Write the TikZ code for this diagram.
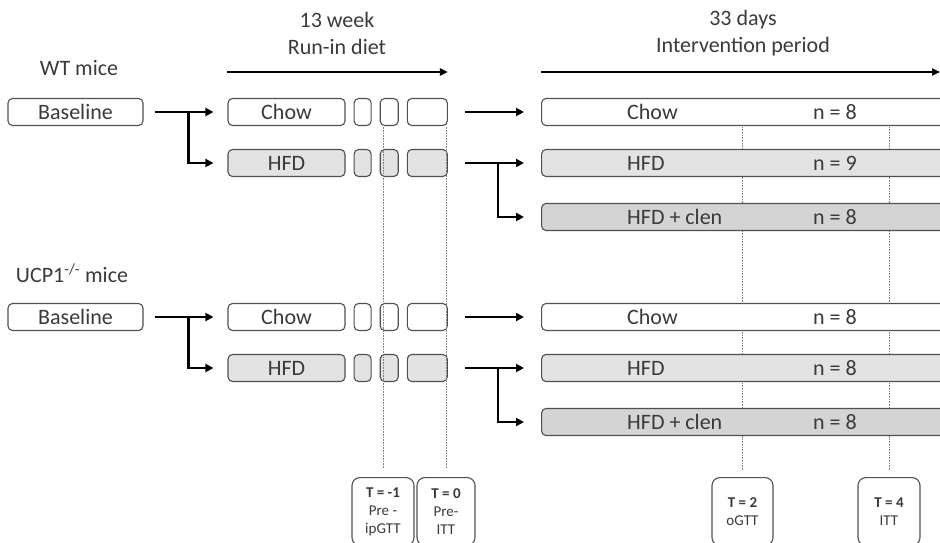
\documentclass[tikz,border=0pt]{standalone}
\usepackage{fontspec}
\setmainfont{Carlito}
\usetikzlibrary{calc, positioning, arrows.meta, backgrounds}

\definecolor{boxline}{HTML}{505050}
\definecolor{hfdgrey}{HTML}{E3E3E3}
\definecolor{clengrey}{HTML}{D4D4D4}
\definecolor{txtgrey}{HTML}{3A3A3A}

\begin{document}
\begin{tikzpicture}[x=1pt, y=-1pt,
   font=\fontsize{22}{27}\selectfont, text=txtgrey,
   box/.style = {draw=boxline, line width=1.1pt, rounded corners=4.5pt,
      minimum height=27pt, inner sep=0pt},
   chow/.style = {box, fill=white},
   hfd/.style = {box, fill=hfdgrey},
   clen/.style = {box, fill=clengrey},
   lbl/.style = {anchor=west, inner sep=0pt},
   tbox/.style = {draw=boxline, line width=1.1pt, rounded corners=8pt,
      minimum height=68pt, anchor=north, align=center,
      font=\fontsize{15}{18}\selectfont},
   arr/.style = {-{Triangle[length=8pt, width=8pt]}, line width=2.4pt, black},
   time/.style = {-{Triangle[length=8pt, width=7pt]}, line width=2pt, black},
   tline/.style = {densely dotted, gray, line width=0.6pt}]

   \clip (0,0) rectangle (940,543);

   % headers
   \node[align=center] (runhead) at (337,33) {13 week\\Run-in diet};
   \node[align=center] (inthead) at (743,33) {33 days\\Intervention period};
   \coordinate (hdr) at (0,72);

   % WT mice
   \node (wtname) at (79,68) {WT mice};
   \node[chow, minimum width=135pt] (wtbase) at (75.5,112) {Baseline};
   \node[chow, minimum width=117pt] (wtchow) at (286.5,112) {Chow};
   \node[chow, minimum width=17pt, right=8pt of wtchow] (wtc1) {};
   \node[chow, minimum width=18pt, right=8pt of wtc1] (wtc2) {};
   \node[chow, minimum width=40pt, right=8pt of wtc2] (wtc3) {};
   \node[hfd, minimum width=117pt] (wthfd) at (286.5,163) {HFD};
   \node[hfd, minimum width=17pt, right=8pt of wthfd] (wth1) {};
   \node[hfd, minimum width=18pt, right=8pt of wth1] (wth2) {};
   \node[hfd, minimum width=40pt, right=8pt of wth2] (wth3) {};

   \node[chow, minimum width=420pt, anchor=west] (wtchowI) at (541,112) {};
   \node[lbl] (wtchowIa) at (627,112) {Chow};
   \node[lbl] (wtchowIb) at (813,112) {n = 8};
   \node[hfd, minimum width=420pt, anchor=west] (wthfdI) at (541,163) {};
   \node[lbl] (wthfdIa) at (627,163) {HFD};
   \node[lbl] (wthfdIb) at (813,163) {n = 9};
   \node[clen, minimum width=420pt, anchor=west] (wtclen) at (541,217) {};
   \node[lbl] (wtclena) at (627,217) {HFD + clen};
   \node[lbl] (wtclenb) at (813,217) {n = 8};

   % UCP1 mice
   \node (koname) at (72,273) {UCP1\textsuperscript{-/-} mice};
   \node[chow, minimum width=135pt] (kobase) at (75.5,317) {Baseline};
   \node[chow, minimum width=117pt] (kochow) at (286.5,317) {Chow};
   \node[chow, minimum width=17pt, right=8pt of kochow] (koc1) {};
   \node[chow, minimum width=18pt, right=8pt of koc1] (koc2) {};
   \node[chow, minimum width=40pt, right=8pt of koc2] (koc3) {};
   \node[hfd, minimum width=117pt] (kohfd) at (286.5,368) {HFD};
   \node[hfd, minimum width=17pt, right=8pt of kohfd] (koh1) {};
   \node[hfd, minimum width=18pt, right=8pt of koh1] (koh2) {};
   \node[hfd, minimum width=40pt, right=8pt of koh2] (koh3) {};

   \node[chow, minimum width=420pt, anchor=west] (kochowI) at (541,317) {};
   \node[lbl] (kochowIa) at (627,317) {Chow};
   \node[lbl] (kochowIb) at (813,317) {n = 8};
   \node[hfd, minimum width=420pt, anchor=west] (kohfdI) at (541,368) {};
   \node[lbl] (kohfdIa) at (627,368) {HFD};
   \node[lbl] (kohfdIb) at (813,368) {n = 8};
   \node[clen, minimum width=420pt, anchor=west] (koclen) at (541,422) {};
   \node[lbl] (koclena) at (627,422) {HFD + clen};
   \node[lbl] (koclenb) at (813,422) {n = 8};

   % time points
   \node[tbox, minimum width=62pt] (tm1) at (383,477) {\textbf{T = -1}\\Pre -\\ipGTT};
   \node[tbox, minimum width=58pt] (t0) at (446,477) {\textbf{T = 0}\\Pre-\\ITT};
   \node[tbox, minimum width=61pt] (t2) at (742.5,477) {\textbf{T = 2}\\oGTT};
   \node[tbox, minimum width=62pt] (t4) at (889,477) {\textbf{T = 4}\\ITT};

   \begin{scope}[on background layer]
   \draw[tline, shorten <=7pt] (t2.north) -- (t2.north |- wtchowI.south);
   \draw[tline, shorten <=7pt] (t4.north) -- (t4.north |- wtchowI.south);
   \end{scope}
   \draw[tline, shorten <=9pt] (tm1.north) -- (tm1.north |- wtc2.south);
   \draw[tline, shorten <=9pt] (t0.north) -- (t0.north |- wtc3.south);

   % arrows
   \draw[time] (wtchow.west |- hdr) -- (wtc3.east |- hdr);
   \draw[time] (wtchowI.west |- hdr) -- (940,72);

   \coordinate (wtfork) at ($(wtbase.east)+(45,0)$);
   \draw[arr, shorten <=11pt, shorten >=14pt] (wtbase) -- (wtchow);
   \draw[arr, shorten >=14pt] (wtfork) |- (wthfd.west);
   \draw[arr, shorten <=17pt, shorten >=17pt] (wtc3) -- (wtchowI.west);
   \coordinate (wtfork2) at ($(wth3.east)+(50,0)$);
   \draw[arr, shorten <=17pt, shorten >=17pt] (wth3) -- (wthfdI.west);
   \draw[arr, shorten >=17pt] (wtfork2) |- (wtclen.west);

   \coordinate (kofork) at ($(kobase.east)+(45,0)$);
   \draw[arr, shorten <=11pt, shorten >=14pt] (kobase) -- (kochow);
   \draw[arr, shorten >=14pt] (kofork) |- (kohfd.west);
   \draw[arr, shorten <=17pt, shorten >=17pt] (koc3) -- (kochowI.west);
   \coordinate (kofork2) at ($(koh3.east)+(50,0)$);
   \draw[arr, shorten <=17pt, shorten >=17pt] (koh3) -- (kohfdI.west);
   \draw[arr, shorten >=17pt] (kofork2) |- (koclen.west);
\end{tikzpicture}
\end{document}
